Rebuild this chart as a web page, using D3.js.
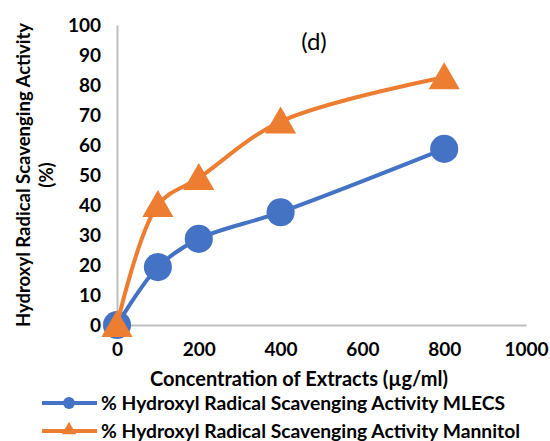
<!DOCTYPE html>
<html>
<head>
<meta charset="utf-8">
<script src="https://cdn.jsdelivr.net/npm/d3@7"></script>
<style>
  body { margin: 0; background: #fff; }
  text { font-family: Lato, "Open Sans", sans-serif; }
</style>
</head>
<body>
<div id="wrapper"></div>
<script>
// data
const concentrations = [0, 100, 200, 400, 800];
const mlecsValues = [0, 19.3, 28.7, 37.6, 58.7];
const mlecsErrors = [0.5, 0.8, 0.8, 0.8, 0.8];
const mannitolValues = [0, 40, 49, 67.8, 82.6];
const mannitolErrors = [0.5, 1.2, 1.2, 1.2, 1.2];
const xTicks = [0, 200, 400, 600, 800, 1000];
const yTicks = [0, 10, 20, 30, 40, 50, 60, 70, 80, 90, 100];
const seriesNames = [
  "% Hydroxyl Radical Scavenging Activity MLECS",
  "% Hydroxyl Radical Scavenging Activity Mannitol"
];

function drawChart() {
  const dimensions = {
    width: 550,
    height: 441,
    margins: { top: 25, left: 117, bottom: 116, right: 24 }
  };
  dimensions.boundedWidth = dimensions.width - dimensions.margins.left - dimensions.margins.right;
  dimensions.boundedHeight = dimensions.height - dimensions.margins.top - dimensions.margins.bottom;

  const svg = d3.select("#wrapper").append("svg")
    .attr("width", dimensions.width)
    .attr("height", dimensions.height);

  const bounds = svg.append("g")
    .attr("transform", `translate(${dimensions.margins.left},${dimensions.margins.top})`);

  const xScale = d3.scaleLinear()
    .domain([0, 1000])
    .range([0, dimensions.boundedWidth]);

  const yScale = d3.scaleLinear()
    .domain([0, 100])
    .range([dimensions.boundedHeight, 0]);

  // axes: grey lines, no tick marks, bold labels
  const xAxis = bounds.append("g")
    .attr("transform", `translate(0,${dimensions.boundedHeight})`)
    .call(d3.axisBottom(xScale).tickValues(xTicks).tickFormat(d3.format("d")).tickSize(0).tickPadding(18));
  const yAxis = bounds.append("g")
    .call(d3.axisLeft(yScale).tickValues(yTicks).tickFormat(d3.format("d")).tickSize(0).tickPadding(16));

  [xAxis, yAxis].forEach(ax => {
    ax.select(".domain").attr("stroke", "#bfbfbf").attr("stroke-width", 2);
    ax.selectAll("text")
      .attr("font-family", "Lato, sans-serif")
      .attr("font-size", 19)
      .attr("font-weight", "bold")
      .attr("fill", "#000");
  });
  yAxis.selectAll("text").attr("dy", "0.35em");

  const series = [
    { name: seriesNames[0], values: mlecsValues, errors: mlecsErrors, color: "#4472c4", marker: d3.symbolCircle },
    { name: seriesNames[1], values: mannitolValues, errors: mannitolErrors, color: "#ed7d31", marker: d3.symbolTriangle }
  ];

  const lineGenerator = d3.line()
    .x(d => xScale(d[0]))
    .y(d => yScale(d[1]))
    .curve(d3.curveCatmullRom.alpha(0.5));

  series.forEach(s => {
    const pts = concentrations.map((c, i) => [c, s.values[i], s.errors[i]]);

    // error bars (mostly hidden behind markers)
    const eb = bounds.append("g");
    pts.forEach(p => {
      const x = xScale(p[0]);
      eb.append("line")
        .attr("x1", x).attr("x2", x)
        .attr("y1", yScale(p[1] - p[2])).attr("y2", yScale(p[1] + p[2]))
        .attr("stroke", "#595959").attr("stroke-width", 1);
      eb.append("line")
        .attr("x1", x - 4).attr("x2", x + 4)
        .attr("y1", yScale(p[1] + p[2])).attr("y2", yScale(p[1] + p[2]))
        .attr("stroke", "#595959").attr("stroke-width", 1);
    });

    bounds.append("path")
      .attr("d", lineGenerator(pts))
      .attr("fill", "none")
      .attr("stroke", s.color)
      .attr("stroke-width", 4);

    const size = s.marker === d3.symbolCircle ? 620 : 420;
    bounds.append("g").selectAll("path")
      .data(pts)
      .join("path")
      .attr("d", d3.symbol().type(s.marker).size(size))
      .attr("transform", d => `translate(${xScale(d[0])},${yScale(d[1]) + (s.marker === d3.symbolTriangle ? 3 : 0)})`)
      .attr("fill", s.color);
  });

  // panel label
  svg.append("text")
    .attr("x", 314)
    .attr("y", 50)
    .attr("text-anchor", "middle")
    .attr("font-size", 24)
    .text("(d)");

  // axis titles
  svg.append("text")
    .attr("x", 299)
    .attr("y", 386)
    .attr("text-anchor", "middle")
    .attr("font-size", 20)
    .attr("font-weight", "bold")
    .text("Concentration of Extracts (\u00b5g/ml)");

  const yTitle = svg.append("text")
    .attr("transform", "translate(30,175) rotate(-90)")
    .attr("text-anchor", "middle")
    .attr("font-size", 18.5)
    .attr("font-weight", "bold");
  yTitle.append("tspan").attr("x", 0).attr("y", 0).text("Hydroxyl Radical Scavenging Activity");
  yTitle.append("tspan").attr("x", 0).attr("y", 23).text("(%)");

  // legend
  const legend = svg.append("g");
  series.forEach((s, i) => {
    const y = 403 + i * 28;
    legend.append("line")
      .attr("x1", 42).attr("x2", 97)
      .attr("y1", y).attr("y2", y)
      .attr("stroke", s.color).attr("stroke-width", 4);
    legend.append("path")
      .attr("d", d3.symbol().type(s.marker).size(s.marker === d3.symbolCircle ? 110 : 90))
      .attr("transform", `translate(69,${y + (s.marker === d3.symbolTriangle ? -1 : 0)})`)
      .attr("fill", s.color);
    legend.append("text")
      .attr("x", 101)
      .attr("y", y)
      .attr("dy", "0.35em")
      .attr("font-size", 19.3)
      .attr("font-weight", "bold")
      .text(s.name);
  });
}

drawChart();
</script>
</body>
</html>
